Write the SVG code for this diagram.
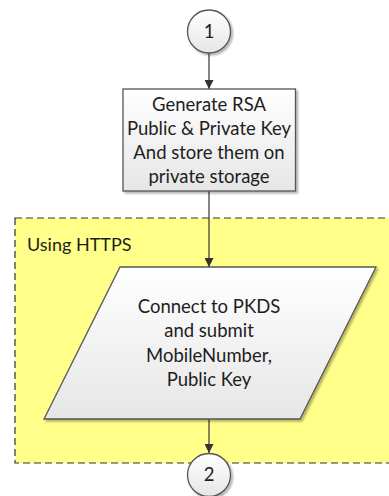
<svg xmlns="http://www.w3.org/2000/svg" width="389" height="496" viewBox="0 0 389 496">
  <style>
    .lbl { font-family: Lato, "Open Sans", "Liberation Sans", sans-serif; font-size: 18.5px; fill: #1e1e1e; text-anchor: middle; }
    .shape { stroke: #555; stroke-width: 1.3; }
    .edge { stroke: #333; stroke-width: 1.2; fill: none; marker-end: url(#arrow); }
  </style>
  <defs>
    <linearGradient id="nodeFill" x1="0" y1="0" x2="0" y2="1">
      <stop offset="0" stop-color="#ffffff"/>
      <stop offset="1" stop-color="#e6e6e6"/>
    </linearGradient>
    <filter id="shadow" x="-10%" y="-10%" width="130%" height="130%">
      <feGaussianBlur in="SourceAlpha" stdDeviation="1.2"/>
      <feOffset dx="2" dy="2" result="b"/>
      <feComponentTransfer><feFuncA type="linear" slope="0.3"/></feComponentTransfer>
      <feMerge><feMergeNode/><feMergeNode in="SourceGraphic"/></feMerge>
    </filter>
    <marker id="arrow" viewBox="0 0 10 10" refX="10" refY="5" markerWidth="9" markerHeight="9" markerUnits="userSpaceOnUse" orient="auto">
      <path d="M0,0 L10,5 L0,10 z" fill="#333"/>
    </marker>
  </defs>

  <rect width="389" height="496" fill="#ffffff"/>

  <!-- HTTPS boundary -->
  <g id="https-zone">
    <rect x="15" y="218" width="380" height="245" fill="#ffff8a" stroke="#333" stroke-width="1.2" stroke-dasharray="7,4"/>
    <text x="27" y="251" font-family="Lato, 'Open Sans', 'Liberation Sans', sans-serif" font-size="18" fill="#1e1e1e">Using HTTPS</text>
  </g>

  <!-- connectors -->
  <g id="connectors">
    <line class="edge" x1="209" y1="53" x2="209" y2="89"/>
    <line class="edge" x1="209" y1="191" x2="209" y2="267"/>
    <line class="edge" x1="209" y1="419" x2="209" y2="453"/>
  </g>

  <g id="start">
    <circle cx="209" cy="31.5" r="21.5" fill="url(#nodeFill)" class="shape" filter="url(#shadow)"/>
    <text class="lbl" x="209" y="38">1</text>
  </g>

  <g id="generate-keys">
    <rect x="123" y="89" width="172.5" height="102" fill="url(#nodeFill)" class="shape" filter="url(#shadow)"/>
    <text class="lbl" x="209" y="111">Generate RSA</text>
    <text class="lbl" x="209" y="135">Public &amp; Private Key</text>
    <text class="lbl" x="209" y="159">And store them on</text>
    <text class="lbl" x="209" y="183">private storage</text>
  </g>

  <g id="submit-key">
    <polygon points="120,267 376,267 300,419 44,419" fill="url(#nodeFill)" class="shape" filter="url(#shadow)"/>
    <text class="lbl" x="209" y="313">Connect to PKDS</text>
    <text class="lbl" x="209" y="337">and submit</text>
    <text class="lbl" x="209" y="362">MobileNumber,</text>
    <text class="lbl" x="209" y="386">Public Key</text>
  </g>

  <g id="end">
    <circle cx="209" cy="475" r="21.5" fill="url(#nodeFill)" class="shape" filter="url(#shadow)"/>
    <text class="lbl" x="209" y="481">2</text>
  </g>
</svg>
